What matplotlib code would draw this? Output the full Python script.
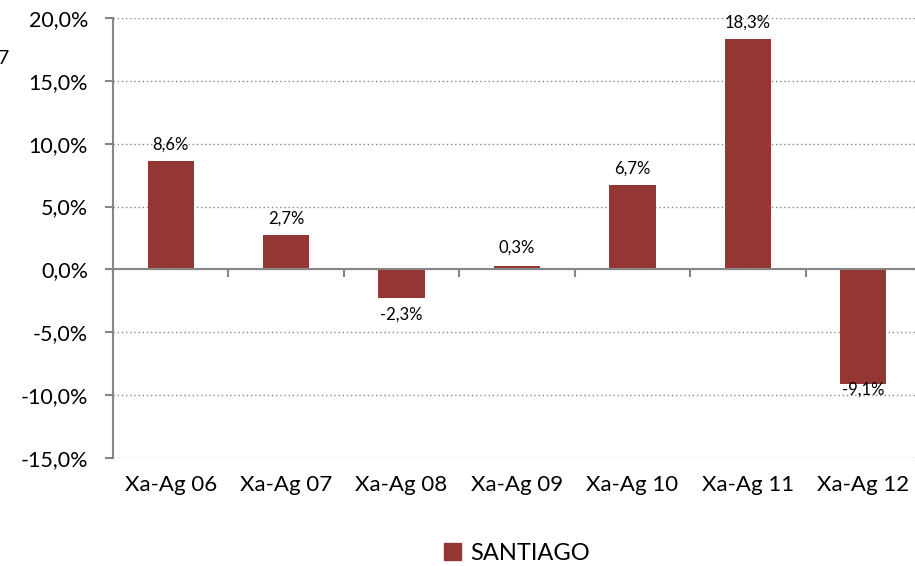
import numpy as np
import matplotlib.pyplot as plt
from matplotlib.patches import Patch
from matplotlib.ticker import FuncFormatter

# data
periods = ['Xa-Ag 06', 'Xa-Ag 07', 'Xa-Ag 08', 'Xa-Ag 09', 'Xa-Ag 10', 'Xa-Ag 11', 'Xa-Ag 12']
santiago = [8.6, 2.7, -2.3, 0.3, 6.7, 18.3, -9.1]
series_name = 'SANTIAGO'

bar_color = '#943634'
axis_color = '#868686'

plt.rcParams['font.family'] = ['Lato', 'DejaVu Sans']

fig = plt.figure(figsize=(9.15, 5.66), dpi=100)
ax = fig.add_axes([113 / 915, 1 - 458 / 566, 808 / 915, 440 / 566])

x = np.arange(len(periods))
bars = ax.bar(x, santiago, width=0.4, color=bar_color, zorder=3)

ax.set_xlim(-0.5, len(periods) - 0.5)
ax.set_ylim(-15, 20)
ax.set_yticks(np.arange(-15, 21, 5))
ax.yaxis.set_major_formatter(FuncFormatter(lambda v, p: f'{v:.1f}%'.replace('.', ',')))
ax.yaxis.grid(True, linestyle=(0, (1, 2)), color=axis_color, linewidth=1)
ax.set_axisbelow(True)

for s in ['top', 'right', 'bottom']:
    ax.spines[s].set_visible(False)
ax.spines['left'].set_color(axis_color)
ax.spines['left'].set_linewidth(1.5)
ax.tick_params(axis='y', length=6, width=1.5, color=axis_color, labelsize=15.5, pad=12)

# category labels at the bottom, no ticks
ax.set_xticks(x)
ax.set_xticklabels(periods)
ax.tick_params(axis='x', length=0, labelsize=16, pad=12)

# zero line with tick marks between categories
ax.axhline(0, color=axis_color, linewidth=1.5, zorder=4)
zero_axis = ax.secondary_xaxis(15 / 35)
zero_axis.spines['bottom'].set_visible(False)
zero_axis.set_xticks(np.arange(len(periods) + 1) - 0.5)
zero_axis.tick_params(length=6, width=1.5, color=axis_color, labelbottom=False)

# data labels
offsets = [12, 12, -12, 13, 12, 12, -4]
for xi, v, off in zip(x, santiago, offsets):
    ax.annotate(f'{v:.1f}%'.replace('.', ','), (xi, v), xytext=(0, off),
                textcoords='offset points', ha='center', va='center',
                fontsize=12, zorder=5)

# stray clipped character at the left edge of the original
fig.text(-0.002, 1 - 58 / 566, '7', ha='left', va='center', fontsize=14)

fig.legend(handles=[Patch(color=bar_color)], labels=[series_name],
           loc='center', bbox_to_anchor=(517 / 915, 1 - 553 / 566),
           frameon=False, fontsize=17, handlelength=0.75, handleheight=0.75,
           handletextpad=0.4)

fig.savefig('out.png', dpi=100)
